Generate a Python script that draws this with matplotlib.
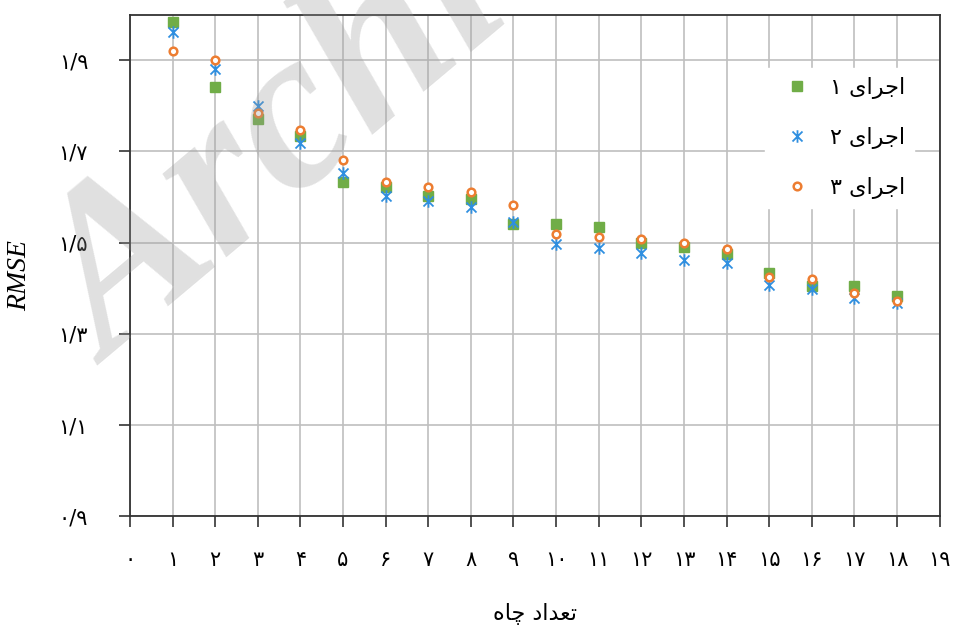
import numpy as np
import matplotlib
matplotlib.use('Agg')
import matplotlib.pyplot as plt
from matplotlib.path import Path

wells = list(range(1, 19))
run1 = [1.984, 1.841, 1.770, 1.733, 1.634, 1.623, 1.603, 1.595, 1.540,
        1.540, 1.535, 1.500, 1.491, 1.474, 1.434, 1.405, 1.405, 1.383]
run2 = [1.962, 1.880, 1.799, 1.718, 1.652, 1.603, 1.592, 1.579, 1.546,
        1.498, 1.489, 1.478, 1.461, 1.456, 1.408, 1.399, 1.378, 1.367]
run3 = [1.920, 1.900, 1.784, 1.746, 1.682, 1.634, 1.621, 1.610, 1.582,
        1.520, 1.512, 1.507, 1.500, 1.487, 1.425, 1.421, 1.390, 1.373]

fa_digits = '۰۱۲۳۴۵۶۷۸۹'
def fa(s):
    return ''.join(fa_digits[int(c)] if c.isdigit() else c for c in str(s))

# Arabic script written in visual order with presentation forms (no shaping in matplotlib)
ejra = '\uFEEF\uFE8D\uFEAE\uFE9F\uFE8D'
run_labels = [fa(i) + ' ' + ejra for i in (1, 2, 3)]
xlabel = '\uFEE9\uFE8E\uFB7C' + ' ' + '\uFEA9\uFE8D\uFEAA\uFECC\uFE97'

yticks = [0.9, 1.1, 1.3, 1.5, 1.7, 1.9]
ytick_labels = [fa('%.1f' % v).replace('.', '/') for v in yticks]
xticks = list(range(0, 20))
xtick_labels = [fa(v) for v in xticks]

star = Path([(-1, -1), (1, 1), (-1, 1), (1, -1), (0, -1.25), (0, 1.25)],
            [Path.MOVETO, Path.LINETO, Path.MOVETO, Path.LINETO, Path.MOVETO, Path.LINETO])

fig = plt.figure(figsize=(9.55, 6.35), dpi=100)
ax = fig.add_axes([0.136, 0.187, 0.848, 0.790])

ax.plot(wells, run1, ls='none', marker='s', ms=6.5, color='#70AD47', mec='#70AD47',
        label=run_labels[0], zorder=3)
ax.plot(wells, run2, ls='none', marker=star, ms=9, color='#2F8FE0', mew=1.3,
        label=run_labels[1], zorder=4)
ax.plot(wells, run3, ls='none', marker='o', ms=5.5, mfc='white', mec='#ED7D31', mew=1.8,
        label=run_labels[2], zorder=5)

ax.set_xlim(0, 19)
ax.set_ylim(0.9, 2.0)
ax.set_xticks(xticks)
ax.set_xticklabels(xtick_labels, fontsize=15, family='DejaVu Sans')
ax.set_yticks(yticks)
ax.set_yticklabels(ytick_labels, fontsize=15, family='DejaVu Sans')
ax.tick_params(axis='both', direction='out', length=8, width=1.2, color='#333333')
ax.tick_params(axis='x', pad=16)
ax.tick_params(axis='y', pad=22)
ax.grid(True, color='#BFBFBF', lw=1.2)
ax.set_axisbelow(True)
for s in ax.spines.values():
    s.set_color('#333333')
    s.set_linewidth(1.3)

ax.set_xlabel(xlabel, fontsize=16, family='DejaVu Sans')
ax.xaxis.set_label_coords(0.5, -0.172)
ax.set_ylabel('RMSE', fontsize=20, family='Liberation Serif', style='italic')
ax.yaxis.set_label_coords(-0.121, 0.48)

leg = ax.legend(loc='upper right', bbox_to_anchor=(0.982, 0.915),
                prop={'family': 'DejaVu Sans', 'size': 16}, frameon=True,
                framealpha=1, edgecolor='white', fancybox=False,
                handletextpad=0.5, labelspacing=1.25, borderpad=0.4)
leg.set_zorder(6)

# faint watermark across the plot, clipped by the top edge as in the source
fig.text(0.115, 0.425, 'Archive', fontsize=165, family='Liberation Serif', style='italic',
         weight='bold', color='#9a9a9a', alpha=0.3, rotation=40, rotation_mode='anchor',
         ha='left', va='baseline', zorder=10)

fig.savefig('out.png', dpi=100)
